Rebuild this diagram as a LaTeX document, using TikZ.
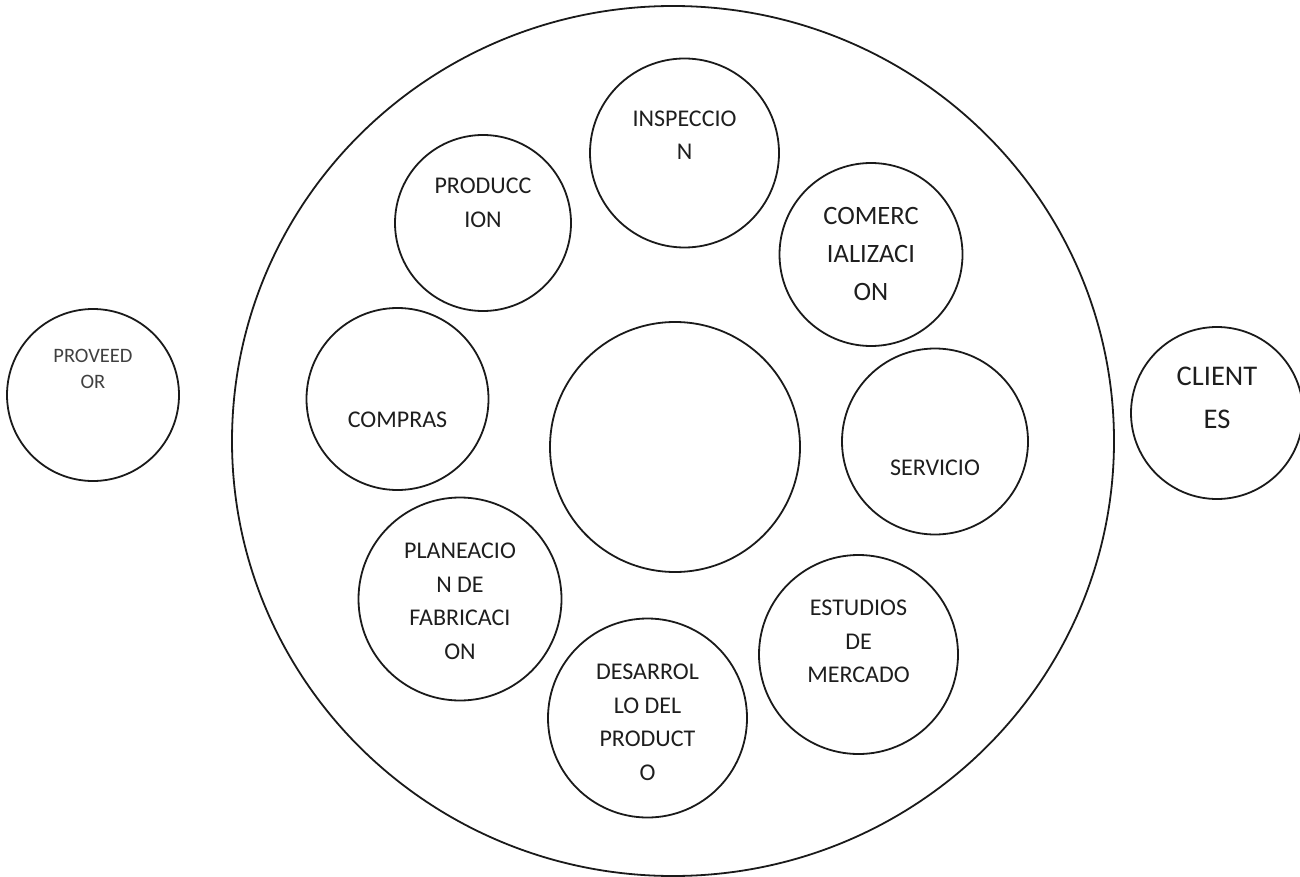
\documentclass[tikz,border=0pt]{standalone}
\usepackage{fontspec}
\setmainfont{Carlito}
\usepackage{tikz}
\usetikzlibrary{
  shapes.geometric,
  positioning
}
\definecolor{lineBlack}{HTML}{1A1A1A}
\definecolor{txtGray}{HTML}{1E1E1E}

\tikzset{
  bubble/.style={circle, draw=lineBlack, line width=1.8pt, inner sep=0pt},
  lbl/.style={align=center, text=txtGray, inner sep=0pt,
    font=\fontsize{24}{33.5}\selectfont},
  lblbig/.style={lbl, font=\fontsize{26.5}{38}\selectfont},
  lblhuge/.style={lbl, font=\fontsize{28.5}{43}\selectfont},
  lblsmall/.style={lbl, text=black!75, font=\fontsize{20.5}{26}\selectfont}
}

\begin{document}
\begin{tikzpicture}[x=1pt, y=-1pt]
  \useasboundingbox (0,0) rectangle (1300,877);

  % empresa
  \node[ellipse, draw=lineBlack, line width=1.8pt, minimum width=882pt, minimum height=870pt] (empresa) at (673,441) {};
  \node[bubble, minimum size=250pt] (nucleo) at (675,447) {};

  % areas
  \node[bubble, minimum size=189pt] (inspeccion) at (684.5,153) {};
  \node[bubble, minimum size=176pt] (produccion) at (483,223) {};
  \node[bubble, minimum size=183pt] (comercial) at (871,254.5) {};
  \node[bubble, minimum size=182pt] (compras) at (397.5,399) {};
  \node[bubble, minimum size=186pt] (servicio) at (935,441.5) {};
  \node[bubble, minimum size=203pt] (planeacion) at (460,599) {};
  \node[bubble, minimum size=199pt] (estudios) at (858.5,654.5) {};
  \node[bubble, minimum size=199pt] (desarrollo) at (647.5,718) {};

  % externos
  \node[bubble, minimum size=172pt] (proveedor) at (93,395) {};
  \node[bubble, minimum size=172pt] (clientes) at (1217,413) {};

  % textos
  \node[lbl] (t-insp) at (684.5,135) {INSPECCIO\\N};
  \node[lbl] (t-prod) at (483,203) {PRODUCC\\ION};
  \node[lblbig] (t-com) at (871,254) {COMERC\\IALIZACI\\ON};
  \node[lbl] (t-compras) at (397.5,420) {COMPRAS};
  \node[lbl] (t-serv) at (935,468) {SERVICIO};
  \node[lbl] (t-plan) at (460,601.5) {PLANEACIO\\N DE\\FABRICACI\\ON};
  \node[lbl] (t-est) at (858.5,641.5) {ESTUDIOS\\DE\\MERCADO};
  \node[lbl] (t-des) at (647.5,722.5) {DESARROL\\LO DEL\\PRODUCT\\O};
  \node[lblsmall] (t-prov) at (93,369) {PROVEED\\OR};
  \node[lblhuge] (t-cli) at (1217,397.5) {CLIENT\\ES};
\end{tikzpicture}
\end{document}
